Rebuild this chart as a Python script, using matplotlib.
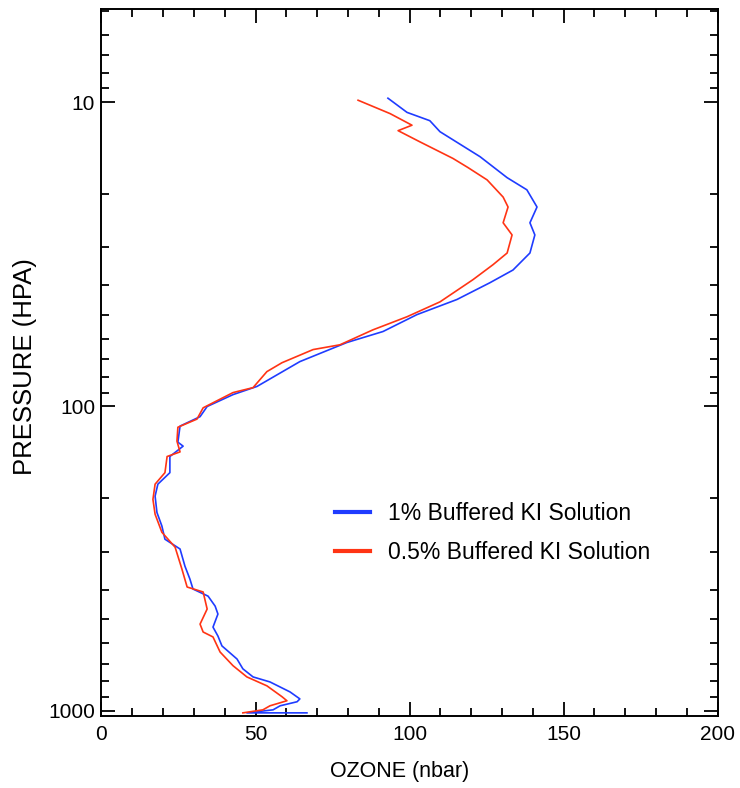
import numpy as np
import matplotlib
matplotlib.use("Agg")
import matplotlib.pyplot as plt
from matplotlib.ticker import FixedLocator, NullFormatter, LogLocator

plt.rcParams['font.family'] = ['Liberation Sans', 'DejaVu Sans']

# ozone partial pressure (nbar) vs pressure (hPa)
ozone_1pct = [93.0, 99.2, 106.6, 109.9, 122.9, 131.7, 138.1, 141.4, 139.1, 140.7,
              139.1, 133.6, 126.1, 115.4, 102.4, 91.4, 79.7, 64.4, 50.5, 42.7,
              34.3, 32.0, 25.5, 24.8, 26.5, 22.2, 22.2, 18.3, 17.4, 18.0,
              19.6, 20.6, 25.5, 27.1, 28.7, 29.7, 34.6, 36.9, 37.8, 36.2,
              37.8, 39.1, 44.0, 45.9, 49.2, 54.7, 61.2, 64.4, 63.5, 58.0,
              55.7, 47.2, 66.7]
press_1pct = [9.7, 10.8, 11.5, 12.5, 15.1, 17.7, 19.4, 22.1, 24.9, 27.3,
              31.3, 35.6, 39.2, 44.5, 49.9, 56.7, 61.6, 71.2, 85.9, 91.4,
              100, 108, 116, 131, 135, 146, 165, 180, 197, 223,
              247, 273, 294, 335, 369, 398, 420, 453, 481, 531,
              568, 612, 676, 728, 774, 804, 867, 914, 934, 963,
              993, 1016, 1016]

ozone_05pct = [83.3, 93.7, 100.8, 96.3, 103.4, 114.1, 119.0, 125.2, 130.4, 132.0,
               130.4, 133.3, 131.7, 127.1, 120.6, 109.9, 99.2, 88.1, 77.4, 68.7,
               58.6, 53.7, 49.2, 42.7, 33.0, 31.0, 24.8, 24.5, 25.5, 21.3,
               20.6, 17.4, 16.7, 17.4, 19.6, 23.9, 26.1, 27.8, 33.0, 34.3,
               32.0, 33.0, 36.2, 38.5, 42.7, 47.2, 53.7, 58.6, 60.2, 54.7,
               52.4, 45.9]
press_05pct = [9.85, 10.9, 11.9, 12.4, 13.5, 15.3, 16.4, 18.0, 20.5, 22.1,
               24.9, 27.3, 31.3, 34.2, 38.3, 45.3, 50.7, 56.0, 62.7, 65.0,
               71.8, 76.8, 86.7, 90.0, 101, 110, 117, 130, 141, 146,
               165, 180, 202, 226, 259, 290, 342, 392, 407, 463,
               519, 551, 572, 641, 711, 774, 828, 899, 927, 963,
               993, 1016]

labels = ['1% Buffered KI Solution', '0.5% Buffered KI Solution']
blue = '#1f3cff'
red = '#ff3414'

fig = plt.figure(figsize=(7.40, 7.88), dpi=100)
ax = fig.add_axes([101.5 / 740, 1 - 715.7 / 788, 616 / 740, 706.4 / 788])

ax.plot(ozone_1pct, press_1pct, color=blue, lw=1.2, label=labels[0])
ax.plot(ozone_05pct, press_05pct, color=red, lw=1.2, label=labels[1])

ax.set_yscale('log')
ax.set_ylim(1038, 4.95)
ax.set_xlim(0, 200)

ax.yaxis.set_major_locator(FixedLocator([10, 100, 1000]))
ax.yaxis.set_minor_locator(LogLocator(base=10, subs=np.arange(2, 10)))
ax.yaxis.set_minor_formatter(NullFormatter())
ax.set_yticklabels(['10', '100', '1000'])
ax.set_xticks([0, 50, 100, 150, 200])
ax.set_xticks(np.arange(0, 201, 10), minor=True)

ax.tick_params(which='both', direction='in', top=True, right=True, width=1.3,
               labelsize=15)
ax.tick_params(which='major', length=10)
ax.tick_params(which='minor', length=5.5)
ax.tick_params(axis='x', which='major', pad=7)
ax.tick_params(axis='y', which='major', pad=4.5)
for s in ax.spines.values():
    s.set_linewidth(1.4)

ax.set_xlabel('OZONE (nbar)', fontsize=15.5)
ax.xaxis.set_label_coords(0.4846, -0.064)
ax.set_ylabel('PRESSURE (HPA)', fontsize=18.5)
ax.yaxis.set_label_coords(-0.105, 0.494)

leg = ax.legend(loc='upper left', bbox_to_anchor=(0.379, 0.303), frameon=False,
                fontsize=16.5, handlelength=1.52, handletextpad=0.78,
                labelspacing=0.7, borderpad=0, borderaxespad=0)
for line in leg.get_lines():
    line.set_linewidth(3)

fig.savefig('out.png', dpi=100)
